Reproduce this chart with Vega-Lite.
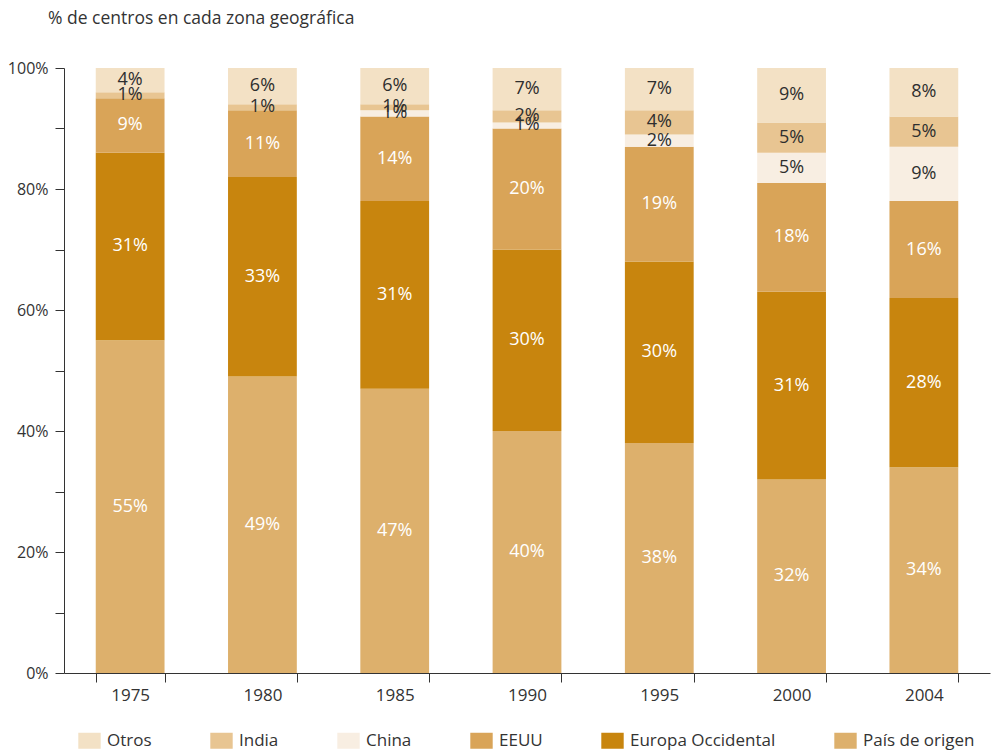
{
  "$schema": "https://vega.github.io/schema/vega-lite/v6.json",
  "width": 926,
  "height": 605,
  "autosize": {"type": "none"},
  "padding": {"left": 64, "top": 68, "right": 4, "bottom": 79},
  "background": "white",
  "title": {
    "text": "% de centros en cada zona geográfica",
    "anchor": "start",
    "frame": "group",
    "dx": -16,
    "offset": 33,
    "font": "Open Sans",
    "fontSize": 17.5,
    "fontWeight": "normal",
    "color": "#333333"
  },
  "data": {
    "values": [
      {"year": "1975", "zona": "País de origen", "v": 0.55},
      {"year": "1975", "zona": "Europa Occidental", "v": 0.31},
      {"year": "1975", "zona": "EEUU", "v": 0.09},
      {"year": "1975", "zona": "India", "v": 0.01},
      {"year": "1975", "zona": "Otros", "v": 0.04},
      {"year": "1980", "zona": "País de origen", "v": 0.49},
      {"year": "1980", "zona": "Europa Occidental", "v": 0.33},
      {"year": "1980", "zona": "EEUU", "v": 0.11},
      {"year": "1980", "zona": "India", "v": 0.01},
      {"year": "1980", "zona": "Otros", "v": 0.06},
      {"year": "1985", "zona": "País de origen", "v": 0.47},
      {"year": "1985", "zona": "Europa Occidental", "v": 0.31},
      {"year": "1985", "zona": "EEUU", "v": 0.14},
      {"year": "1985", "zona": "China", "v": 0.01},
      {"year": "1985", "zona": "India", "v": 0.01},
      {"year": "1985", "zona": "Otros", "v": 0.06},
      {"year": "1990", "zona": "País de origen", "v": 0.40},
      {"year": "1990", "zona": "Europa Occidental", "v": 0.30},
      {"year": "1990", "zona": "EEUU", "v": 0.20},
      {"year": "1990", "zona": "China", "v": 0.01},
      {"year": "1990", "zona": "India", "v": 0.02},
      {"year": "1990", "zona": "Otros", "v": 0.07},
      {"year": "1995", "zona": "País de origen", "v": 0.38},
      {"year": "1995", "zona": "Europa Occidental", "v": 0.30},
      {"year": "1995", "zona": "EEUU", "v": 0.19},
      {"year": "1995", "zona": "China", "v": 0.02},
      {"year": "1995", "zona": "India", "v": 0.04},
      {"year": "1995", "zona": "Otros", "v": 0.07},
      {"year": "2000", "zona": "País de origen", "v": 0.32},
      {"year": "2000", "zona": "Europa Occidental", "v": 0.31},
      {"year": "2000", "zona": "EEUU", "v": 0.18},
      {"year": "2000", "zona": "China", "v": 0.05},
      {"year": "2000", "zona": "India", "v": 0.05},
      {"year": "2000", "zona": "Otros", "v": 0.09},
      {"year": "2004", "zona": "País de origen", "v": 0.34},
      {"year": "2004", "zona": "Europa Occidental", "v": 0.28},
      {"year": "2004", "zona": "EEUU", "v": 0.16},
      {"year": "2004", "zona": "China", "v": 0.09},
      {"year": "2004", "zona": "India", "v": 0.05},
      {"year": "2004", "zona": "Otros", "v": 0.08}
    ]
  },
  "transform": [
    {"calculate": "indexof(['País de origen', 'Europa Occidental', 'EEUU', 'China', 'India', 'Otros'], datum.zona)", "as": "ord"}
  ],
  "encoding": {
    "x": {
      "field": "year",
      "type": "ordinal",
      "scale": {"paddingInner": 0.48, "paddingOuter": 0.24},
      "axis": {
        "title": null,
        "labelAngle": 0,
        "tickBand": "extent",
        "tickSize": 9,
        "tickColor": "#333333",
        "domainColor": "#333333",
        "labelPadding": 5,
        "labelFont": "Open Sans",
        "labelFontSize": 17,
        "labelColor": "#333333"
      }
    },
    "y": {
      "field": "v",
      "type": "quantitative",
      "stack": "zero",
      "scale": {"domain": [0, 1], "nice": false},
      "axis": {
        "title": null,
        "values": [0, 0.1, 0.2, 0.3, 0.4, 0.5, 0.6, 0.7, 0.8, 0.9, 1],
        "format": ".0%",
        "labelExpr": "round(datum.value * 10) % 2 == 0 ? datum.label : ''",
        "grid": false,
        "tickSize": 9,
        "tickColor": "#333333",
        "domainColor": "#333333",
        "labelPadding": 7,
        "labelFont": "Open Sans",
        "labelFontSize": 16,
        "labelColor": "#333333"
      }
    },
    "order": {"field": "ord", "type": "quantitative", "sort": "ascending"}
  },
  "layer": [
    {
      "mark": {"type": "bar"},
      "encoding": {
        "color": {
          "field": "zona",
          "type": "nominal",
          "sort": ["Otros", "India", "China", "EEUU", "Europa Occidental", "País de origen"],
          "scale": {
            "domain": ["Otros", "India", "China", "EEUU", "Europa Occidental", "País de origen"],
            "range": ["#f3e1c5", "#e8c592", "#f8eee2", "#d9a458", "#c8850e", "#ddb06c"]
          },
          "legend": {
            "title": null,
            "orient": "none",
            "legendX": 17,
            "legendY": 664,
            "direction": "horizontal",
            "padding": 0,
            "columnPadding": 58,
            "symbolType": "M-1.4,-1H1.4V1H-1.4Z",
            "symbolSize": 256,
            "symbolStrokeWidth": 0,
            "symbolOpacity": 1,
            "labelFont": "Open Sans",
            "labelFontSize": 17,
            "labelColor": "#333333",
            "labelOffset": 9
          }
        }
      }
    },
    {
      "mark": {"type": "text", "font": "Open Sans", "fontSize": 18, "baseline": "middle"},
      "encoding": {
        "y": {"field": "v", "type": "quantitative", "stack": "zero", "bandPosition": 0.5},
        "text": {"field": "v", "type": "quantitative", "format": ".0%"},
        "color": {
          "field": "zona",
          "type": "nominal",
          "scale": {
            "domain": ["Otros", "India", "China", "EEUU", "Europa Occidental", "País de origen"],
            "range": ["#2e2e2e", "#2e2e2e", "#2e2e2e", "#ffffff", "#ffffff", "#ffffff"]
          },
          "legend": null
        }
      }
    }
  ],
  "resolve": {"scale": {"color": "independent"}},
  "config": {"view": {"stroke": null}}
}
